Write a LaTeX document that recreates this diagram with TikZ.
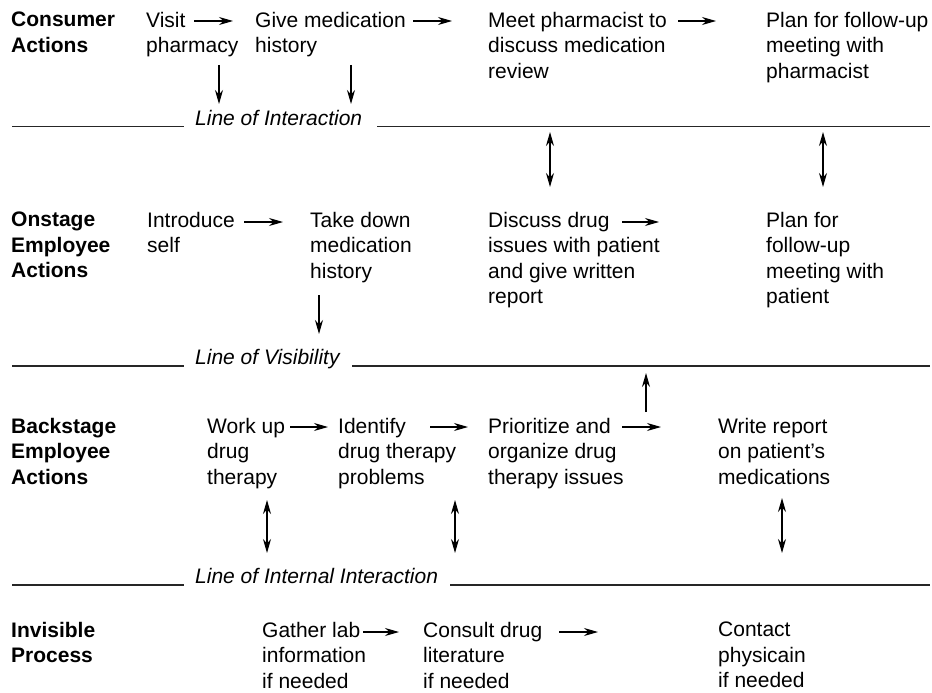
\documentclass[tikz,border=0pt]{standalone}
\usepackage{fontspec}
\setmainfont{Liberation Sans}
\usetikzlibrary{arrows.meta}

\begin{document}
\begin{tikzpicture}[x=1pt,y=-1pt,
  lane/.style={font=\fontsize{21}{25.5}\selectfont\bfseries, anchor=north west, align=left, inner sep=0},
  act/.style={font=\fontsize{21}{25.5}\selectfont, anchor=north west, align=left, inner sep=0},
  lineof/.style={font=\fontsize{21}{25.5}\selectfont\itshape, anchor=base west, inner sep=0},
  sepline/.style={line width=1.3pt, black!85},
  flow/.style={line width=1.1pt, -{Stealth[length=14pt,width=8pt,inset=4.5pt]}},
  both/.style={line width=1.1pt, {Stealth[length=14pt,width=8pt,inset=4.5pt]}-{Stealth[length=14pt,width=8pt,inset=4.5pt]}}]
\useasboundingbox (0,0) rectangle (932,693);

% lanes
\node[lane] (consumer) at (11,12) {Consumer\\Actions};
\node[lane] (onstage) at (11,212) {Onstage\\Employee\\Actions};
\node[lane] (backstage) at (11,418) {Backstage\\Employee\\Actions};
\node[lane] (invisible) at (11,622) {Invisible\\Process};

% consumer actions
\node[act] (visit) at (146,12) {Visit\\pharmacy};
\node[act] (givehist) at (255,12) {Give medication\\history};
\node[act] (meetpharm) at (488,12) {Meet pharmacist to\\discuss medication\\review};
\node[act] (planpharm) at (766,12) {Plan for follow-up\\meeting with\\pharmacist};

% onstage employee actions
\node[act] (introduce) at (147,212) {Introduce\\self};
\node[act] (takehist) at (310,212) {Take down\\medication\\history};
\node[act] (discuss) at (488,212) {Discuss drug\\issues with patient\\and give written\\report};
\node[act] (planpat) at (766,212) {Plan for\\follow-up\\meeting with\\patient};

% backstage employee actions
\node[act] (workup) at (207,418) {Work up\\drug\\therapy};
\node[act] (identify) at (338,418) {Identify\\drug therapy\\problems};
\node[act] (prioritize) at (488,418) {Prioritize and\\organize drug\\therapy issues};
\node[act] (writerep) at (718,418) {Write report\\on patient's\\medications};

% invisible process
\node[act] (gather) at (262,622) {Gather lab\\information\\if needed};
\node[act] (consult) at (423,622) {Consult drug\\literature\\if needed};
\node[act] (contact) at (718,622) {Contact\\physicain\\if needed};

% lines
\node[lineof] (interaction) at (195,125) {Line of Interaction};
\draw[sepline] (12,126.5) -- (184,126.5);
\draw[sepline] (377,126.5) -- (930,126.5);
\node[lineof] (visibility) at (195,364) {Line of Visibility};
\draw[sepline] (12,366) -- (184,366);
\draw[sepline] (352,366) -- (930,366);
\node[lineof] (internal) at (195,583) {Line of Internal Interaction};
\draw[sepline] (12,585) -- (184,585);
\draw[sepline] (450,585) -- (930,585);

% arrow ends
\coordinate (c1s) at (194,21);  \coordinate (c1e) at (233,21);
\coordinate (c2s) at (413,21);  \coordinate (c2e) at (452,21);
\coordinate (c3s) at (678,21);  \coordinate (c3e) at (716,21);
\coordinate (o1s) at (244,222); \coordinate (o1e) at (283,222);
\coordinate (o2s) at (622,222); \coordinate (o2e) at (659,222);
\coordinate (b1s) at (290,427); \coordinate (b1e) at (328,427);
\coordinate (b2s) at (430,427); \coordinate (b2e) at (468,427);
\coordinate (b3s) at (622,427); \coordinate (b3e) at (661,427);
\coordinate (i1s) at (363,632); \coordinate (i1e) at (399,632);
\coordinate (i2s) at (559,632); \coordinate (i2e) at (598,632);

\coordinate (d1s) at (219,65);  \coordinate (d1e) at (219,104);
\coordinate (d2s) at (351,65);  \coordinate (d2e) at (351,104);
\coordinate (d3s) at (319,295); \coordinate (d3e) at (319,334);
\coordinate (u1s) at (646,412); \coordinate (u1e) at (646,373);
\coordinate (v1s) at (550,132); \coordinate (v1e) at (550,187);
\coordinate (v2s) at (823,132); \coordinate (v2e) at (823,187);
\coordinate (v3s) at (267,500); \coordinate (v3e) at (267,553);
\coordinate (v4s) at (455,500); \coordinate (v4e) at (455,553);
\coordinate (v5s) at (782,498); \coordinate (v5e) at (782,553);

% flow arrows
\draw[flow] (c1s) -- (c1e);
\draw[flow] (c2s) -- (c2e);
\draw[flow] (c3s) -- (c3e);
\draw[flow] (o1s) -- (o1e);
\draw[flow] (o2s) -- (o2e);
\draw[flow] (b1s) -- (b1e);
\draw[flow] (b2s) -- (b2e);
\draw[flow] (b3s) -- (b3e);
\draw[flow] (i1s) -- (i1e);
\draw[flow] (i2s) -- (i2e);

\draw[flow] (d1s) -- (d1e);
\draw[flow] (d2s) -- (d2e);
\draw[flow] (d3s) -- (d3e);
\draw[flow] (u1s) -- (u1e);

\draw[both] (v1s) -- (v1e);
\draw[both] (v2s) -- (v2e);
\draw[both] (v3s) -- (v3e);
\draw[both] (v4s) -- (v4e);
\draw[both] (v5s) -- (v5e);
\end{tikzpicture}
\end{document}
